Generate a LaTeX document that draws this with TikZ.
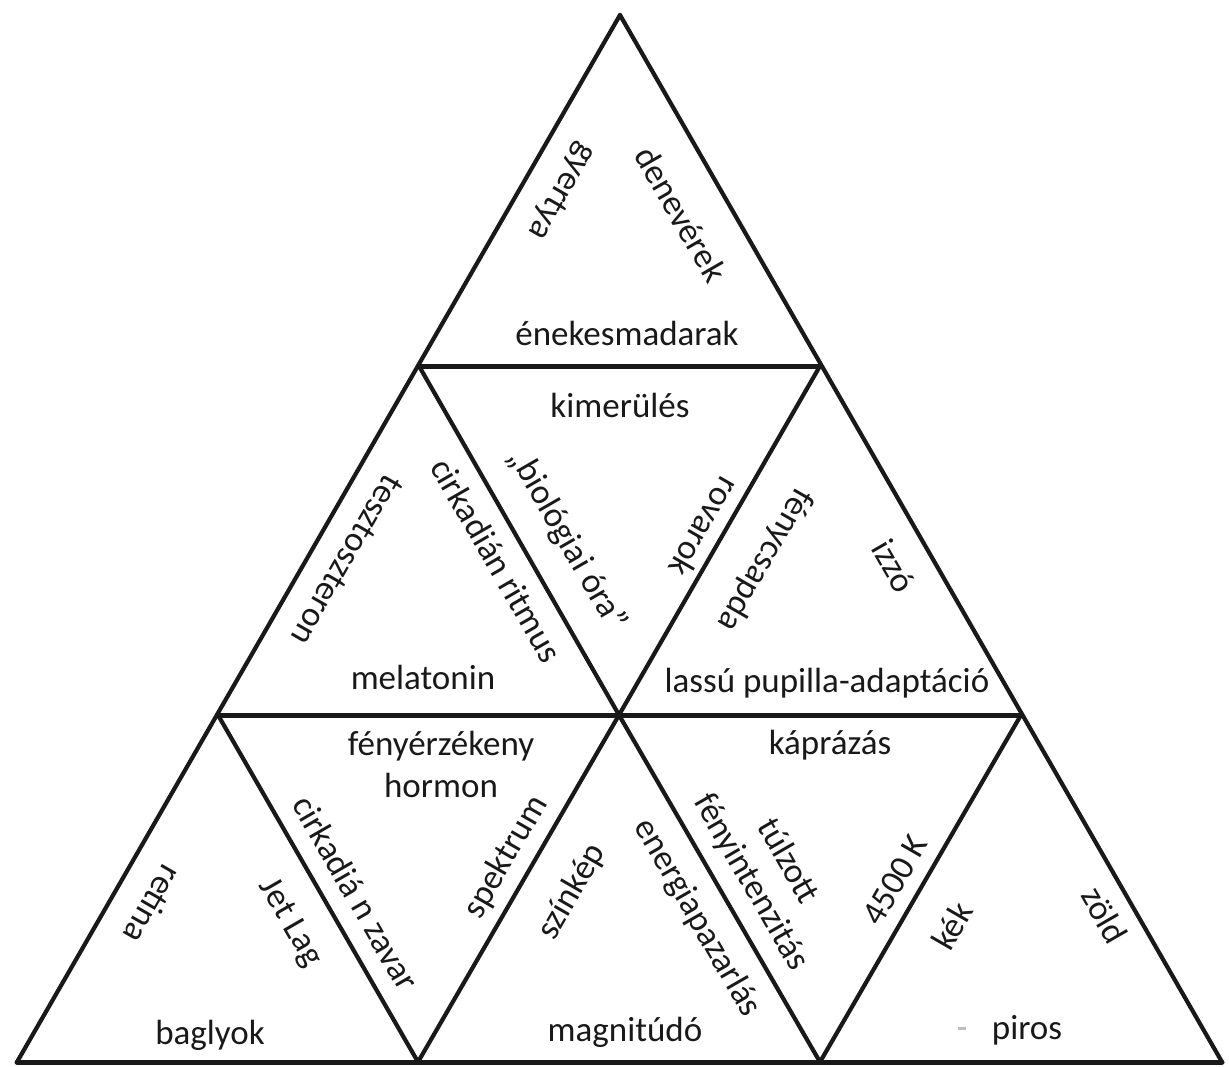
\documentclass[tikz,border=0pt]{standalone}
\usepackage{fontspec}
\setmainfont{Carlito}
\begin{document}
\begin{tikzpicture}[x=1pt,y=-1pt,
  edge/.style={line width=4.2pt, black!90, line cap=round},
  rung/.style={line width=5pt, black!90, line cap=round},
  lbl/.style={font=\fontsize{35}{42}\selectfont, text=black!90, inner sep=0pt, align=center},
  rise/.style={lbl, rotate=60},
  fall/.style={lbl, rotate=-60},
  inv/.style={lbl, rotate=-120}]
\fill[white] (0,0) rectangle (1229,1066);
\useasboundingbox (0,0) rectangle (1229,1066);
% vertices
\coordinate (A)  at (620,15);
\coordinate (B1) at (419,366);
\coordinate (B2) at (820,366);
\coordinate (C1) at (218,715);
\coordinate (C2) at (619,715);
\coordinate (C3) at (1021,715);
\coordinate (D1) at (17,1062);
\coordinate (D2) at (418,1062);
\coordinate (D3) at (820,1062);
\coordinate (D4) at (1222,1062);
% edges
\draw[edge] (A) -- (D1);
\draw[edge] (A) -- (D4);
\draw[rung] (D1) -- (D4);
\draw[rung] (B1) -- (B2);
\draw[rung] (C1) -- (C3);
\draw[edge] (B1) -- (C2) -- (D3);
\draw[edge] (B2) -- (C2) -- (D2);
\draw[edge] (C1) -- (D2);
\draw[edge] (C3) -- (D3);
% row 1
\node[lbl]  (t1a) at (627,333) {énekesmadarak};
\node[inv]  (t1b) at (561,191) {gyertya};
\node[fall] (t1c) at (681,214) {denevérek};
% row 2 left
\node[lbl]  (t2a) at (423,677) {melatonin};
\node[inv]  (t2b) at (347,560) {tesztoszteron};
\node[fall] (t2c) at (497,560) {cirkadián ritmus};
% row 2 middle
\node[lbl]  (t3a) at (620,405) {kimerülés};
\node[fall] (t3b) at (567,540) {„biológiai óra”};
\node[inv]  (t3c) at (705,527) {rovarok};
% row 2 right
\node[lbl]  (t4a) at (827,683) {lassú pupilla-adaptáció};
\node[inv]  (t4b) at (765,560) {fénycsapda};
\node[fall] (t4c) at (894,566) {izzó};
% row 3
\node[lbl]  (t5a) at (210,1035) {baglyok};
\node[inv]  (t5b) at (153,905) {retina};
\node[fall] (t5c) at (290,923) {Jet Lag};
\node[lbl]  (t6a) at (441,764) {fényérzékeny\\hormon};
\node[fall] (t6b) at (356,893) {cirkadiá n zavar};
\node[rise] (t6c) at (506,857) {spektrum};
\node[lbl]  (t7a) at (625,1032) {magnitúdó};
\node[rise] (t7b) at (572,892) {színkép};
\node[fall] (t7c) at (697,918) {energiapazarlás};
\node[lbl]  (t8a) at (830,745) {káprázás};
\node[fall] (t8b) at (769,872) {túlzott\\fényintenzitás};
\node[rise] (t8c) at (895,880) {4500 K};
\node[lbl]  (t9a) at (1027,1030) {piros};
\node[rise] (t9b) at (952,926) {kék};
\node[fall] (t9c) at (1105,915) {zöld};
\draw[black!25, line width=3pt] (958,1028) -- (966,1028);
\end{tikzpicture}
\end{document}
